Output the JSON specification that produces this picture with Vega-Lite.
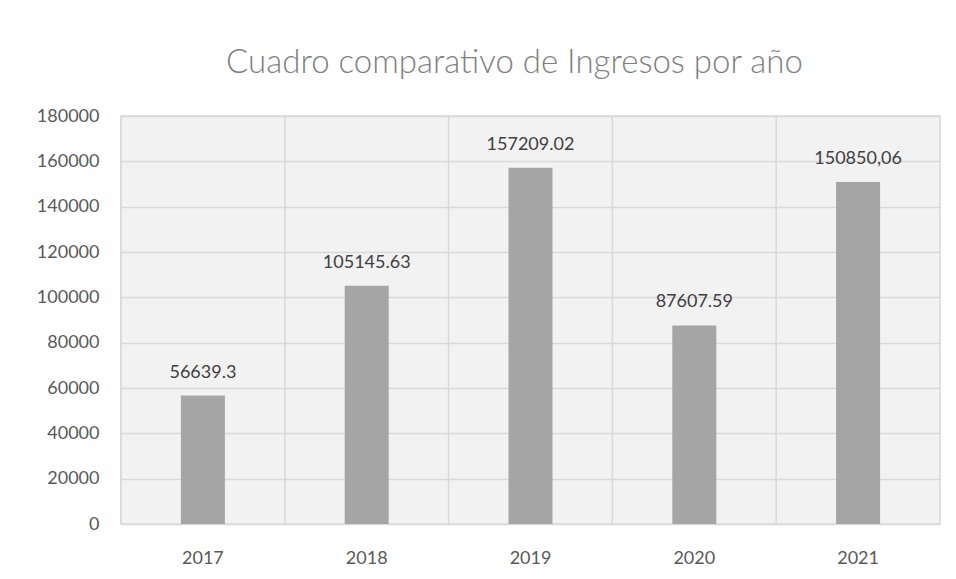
{
  "$schema": "https://vega.github.io/schema/vega-lite/v6.json",
  "autosize": "none",
  "width": 819,
  "height": 408,
  "padding": {"left": 121, "top": 116, "right": 16, "bottom": 55},
  "background": "#FFFFFF",
  "title": {
    "text": "Cuadro comparativo de Ingresos por año",
    "font": "Lato",
    "fontWeight": 300,
    "fontSize": 33,
    "color": "#7F7F7F",
    "anchor": "middle",
    "baseline": "alphabetic",
    "offset": 42,
    "dy": 41,
    "dx": -16
  },
  "config": {
    "view": {"fill": "#F2F2F2", "stroke": "#D9D9D9", "strokeWidth": 1.5},
    "axis": {"labelFont": "Lato", "labelFontSize": 18, "labelColor": "#595959", "domain": false, "ticks": false, "title": null}
  },
  "data": {
    "values": [
      {"year": "2017", "ingresos": 56639.3, "label": "56639.3"},
      {"year": "2018", "ingresos": 105145.63, "label": "105145.63"},
      {"year": "2019", "ingresos": 157209.02, "label": "157209.02"},
      {"year": "2020", "ingresos": 87607.59, "label": "87607.59"},
      {"year": "2021", "ingresos": 150850.06, "label": "150850,06"}
    ]
  },
  "encoding": {
    "x": {
      "field": "year",
      "type": "nominal",
      "scale": {"paddingInner": 0, "paddingOuter": 0},
      "axis": {"labelAngle": 0, "labelPadding": 25, "grid": false}
    }
  },
  "layer": [
    {
      "mark": {"type": "rule", "color": "#D9D9D9", "strokeWidth": 1.5},
      "encoding": {
        "x": {"field": "year", "type": "nominal", "bandPosition": 0}
      }
    },
    {
      "mark": {"type": "bar", "color": "#A5A5A5", "size": 44},
      "encoding": {
        "y": {
          "field": "ingresos",
          "type": "quantitative",
          "scale": {"domain": [0, 180000], "nice": false},
          "axis": {
            "values": [0, 20000, 40000, 60000, 80000, 100000, 120000, 140000, 160000, 180000],
            "format": "d",
            "labelPadding": 22,
            "grid": true,
            "gridColor": "#D9D9D9",
            "gridWidth": 1.5
          }
        }
      }
    },
    {
      "mark": {"type": "text", "font": "Lato", "fontSize": 18, "color": "#404040", "baseline": "alphabetic", "dy": -18},
      "encoding": {
        "y": {"field": "ingresos", "type": "quantitative"},
        "text": {"field": "label"}
      }
    }
  ]
}
